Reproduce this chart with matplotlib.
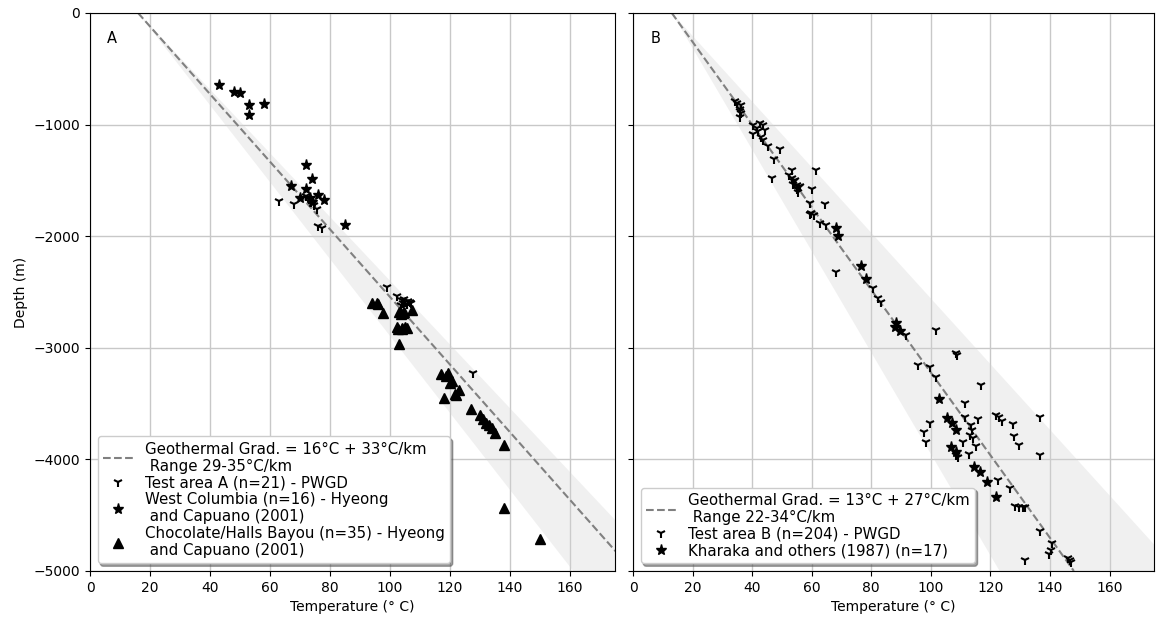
import numpy as np
import matplotlib
matplotlib.use("Agg")
import matplotlib.pyplot as plt

# ---- panel A data (temperature in deg C, depth in m) ----
testA_T = [63, 68, 72, 73.5, 74.5, 75.6, 76.1, 77.2, 99.1, 102.2, 103.9, 104.2, 105, 106.1,
           106.7, 104.5, 103.5, 105.5, 107, 127.8, 73]
testA_D = [-1682, -1711, -1640, -1690, -1720, -1759, -1906, -1923, -2452, -2533, -2572, -2601,
           -2587, -2581, -2587, -2560, -2620, -2610, -2600, -3228, -1670]

westcol_T = [43.1, 48, 50, 53.1, 57.9, 53.1, 72, 74, 67, 72, 70, 73.3, 76.1, 78.1, 73.9, 85.1]
westcol_D = [-648, -708, -720, -827, -818, -917, -1365, -1485, -1547, -1574, -1655, -1655,
             -1631, -1676, -1691, -1897]

choc_T = [93.9, 95.6, 97.8, 103.1, 104.2, 107.2, 102.4, 105, 105.6, 103.9, 103.1, 117, 119.2,
          120, 123.1, 122, 118.1, 126.9, 130, 132, 133.1, 135, 138, 138, 150,
          103.5, 104.7, 104, 102.8, 118.5, 120.5, 121.5, 131, 134, 96]
choc_D = [-2601, -2601, -2685, -2676, -2691, -2661, -2811, -2811, -2825, -2834, -2966, -3238,
          -3223, -3318, -3378, -3423, -3447, -3551, -3602, -3677, -3692, -3766, -3871, -4438,
          -4713, -2700, -2680, -2820, -2830, -3250, -3300, -3410, -3640, -3720, -2610]

# ---- panel B data ----
testB_T = [34.2, 36.4, 35.9, 36.4, 35.9, 35, 36,
           40.3, 42.6, 43.7, 41.5, 44.3, 40.3, 43.1, 43.7, 42,
           45.4, 49.3, 47.3, 46.5, 53.4, 52.4,
           53.5, 54.5, 53.8, 55.2, 55.8, 54.9, 56.2, 55.5, 54, 55,
           61.3, 60.2, 64.4, 59.3, 59.9, 60.7, 59.3, 62.7, 64.9,
           68.3, 80.6, 82.2, 83.4, 91.8, 101.6, 108.3, 108.7, 95.6, 99.6, 101.6, 116.7,
           111.6, 111.6, 115.8, 121.7, 122.8, 123.9, 127.7, 136.8, 99.6, 97.6, 98.4,
           113.5, 113.7, 113, 114.1, 110.7, 115, 112.7, 127.8, 129.5, 136.8, 108.5, 109.1,
           122.7, 126.7, 128.1, 129.7, 130.8, 131.7, 136.8, 140.7, 140.3, 139.8, 131.7,
           145.9, 146.7, 147.1]
testB_D = [-786, -824, -863, -899, -929, -810, -880,
           -1004, -983, -1004, -1033, -1048, -1084, -1114, -1138, -1060,
           -1192, -1221, -1311, -1481, -1407, -1452,
           -1480, -1500, -1530, -1540, -1560, -1580, -1550, -1600, -1510, -1570,
           -1407, -1580, -1714, -1705, -1795, -1810, -1800, -1884, -1900,
           -2318, -2467, -2557, -2587, -2885, -2840, -3044, -3065, -3154, -3169, -3259, -3333,
           -3492, -3617, -3641, -3602, -3623, -3653, -3683, -3617, -3677, -3751, -3841,
           -3692, -3737, -3781, -3811, -3841, -3880, -3952, -3790, -3871, -3961, -3961, -3982,
           -4185, -4253, -4418, -4424, -4429, -4424, -4642, -4752, -4812, -4848, -4901,
           -4886, -4901, -4916]

kharaka_T = [68.1, 68.7, 76.4, 78.3, 87.8, 88.4, 89.5, 102.7, 105.5, 107.2, 108.5, 106.8,
             108.5, 114.6, 116.6, 118.9, 121.7]
kharaka_D = [-1930, -2000, -2264, -2386, -2817, -2775, -2847, -3461, -3632, -3677, -3737,
             -3886, -3931, -4065, -4110, -4205, -4334]

# geothermal gradient models: surface temp, best gradient, range (deg C / km)
gradA = (16, 33, 29, 35)
gradB = (13, 27, 22, 34)

fig = plt.figure(figsize=(11.56, 6.17), dpi=100)
axA = fig.add_axes([0.0779, 0.0746, 0.4542, 0.9044])
axB = fig.add_axes([0.5476, 0.0746, 0.4509, 0.9044], sharey=axA)

depth = np.linspace(0, 5000, 200)


def draw_gradient(ax, grad):
    t0, g, glo, ghi = grad
    ax.fill_betweenx(-depth, t0 + glo * depth / 1000, t0 + ghi * depth / 1000,
                     color="lightgray", alpha=0.33, lw=0, zorder=1)
    label = "Geothermal Grad. = %d°C + %d°C/km\n Range %d-%d°C/km" % (t0, g, glo, ghi)
    ax.plot(t0 + g * depth / 1000, -depth, ls="--", color="gray", lw=1.5,
            label=label, zorder=2)


draw_gradient(axA, gradA)
axA.plot(testA_T, testA_D, ls="none", marker="1", ms=7, mew=1.5, color="black",
         label="Test area A (n=21) - PWGD", zorder=3)
axA.plot(westcol_T, westcol_D, ls="none", marker="*", ms=8, color="black",
         label="West Columbia (n=16) - Hyeong\n and Capuano (2001)", zorder=3)
axA.plot(choc_T, choc_D, ls="none", marker="^", ms=7, color="black",
         label="Chocolate/Halls Bayou (n=35) - Hyeong\n and Capuano (2001)", zorder=3)

draw_gradient(axB, gradB)
axB.plot(testB_T, testB_D, ls="none", marker="1", ms=7, mew=1.5, color="black",
         label="Test area B (n=204) - PWGD", zorder=3)
axB.plot(kharaka_T, kharaka_D, ls="none", marker="*", ms=8, color="black",
         label="Kharaka and others (1987) (n=17)", zorder=3)

for ax, tag in [(axA, "A"), (axB, "B")]:
    ax.set_xlim(0, 175)
    ax.set_ylim(-5000, 0)
    ax.set_xticks(range(0, 161, 20))
    ax.set_yticks(range(-5000, 1, 1000))
    ax.grid(True, color="#c8c8c8", lw=1)
    ax.set_axisbelow(True)
    ax.set_xlabel("Temperature (° C)")
    ax.text(0.033, 0.955, tag, transform=ax.transAxes, fontsize=10.5, va="center")
    ax.legend(loc="lower left", shadow=True, fancybox=True, labelspacing=0.1,
              fontsize=10.8, handletextpad=0.8, borderpad=0.35)

axA.set_ylabel("Depth (m)")
plt.setp(axB.get_yticklabels(), visible=False)

plt.savefig("out.png", dpi=100)
